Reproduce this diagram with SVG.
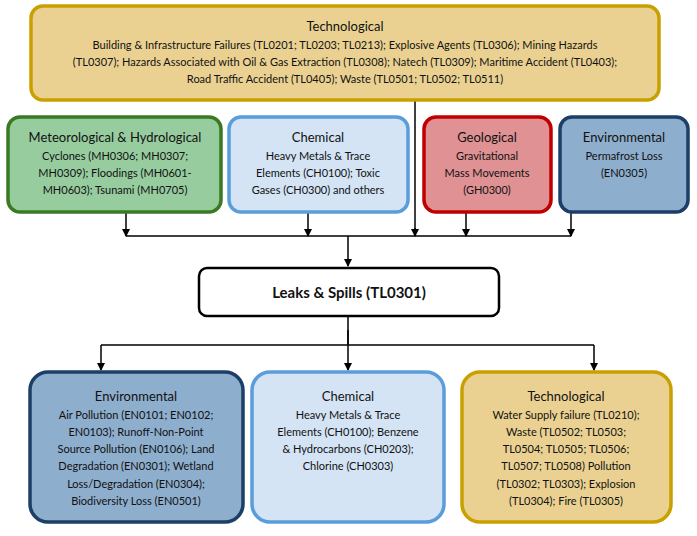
<svg xmlns="http://www.w3.org/2000/svg" width="697" height="536" viewBox="0 0 697 536">
<defs>
<marker id="ah" markerWidth="8" markerHeight="8" refX="7" refY="4" orient="auto" markerUnits="userSpaceOnUse"><path d="M0,0 L8,4 L0,8 z" fill="#000"/></marker>
<style>
text{font-family:Lato,"Liberation Sans",sans-serif;text-anchor:middle;fill:#111}
.t{font-size:13px}.b{font-size:11px}
.c{stroke:#000;stroke-width:1.5;fill:none}
.box{stroke-width:3.5}
</style>
</defs>
<rect width="697" height="536" fill="#fff"/>
<g id="connectors">
<path class="c" d="M415,100 V236"/>
<path class="c" d="M126,236 H571"/>
<path class="c" d="M126,212 V236" marker-end="url(#ah)"/>
<path class="c" d="M308,212 V236" marker-end="url(#ah)"/>
<path class="c" d="M466,212 V236" marker-end="url(#ah)"/>
<path class="c" d="M571,212 V236" marker-end="url(#ah)"/>
<path class="c" d="M415,228 V236" marker-end="url(#ah)"/>
<path class="c" d="M348,236 V266" marker-end="url(#ah)"/>
<path class="c" d="M348,316 V344"/>
<path class="c" d="M101,345 H594"/>
<path class="c" d="M101,345 V370" marker-end="url(#ah)"/>
<path class="c" d="M348,330 V370" marker-end="url(#ah)"/>
<path class="c" d="M594,345 V370" marker-end="url(#ah)"/>
</g>
<g id="tech-top">
<rect class="box" x="31" y="6" width="628" height="94" rx="12" fill="#ead192" stroke="#c9a000"/>
<text class="t" x="345" y="31">Technological</text>
<text class="b" x="345" y="49">Building &amp; Infrastructure Failures (TL0201; TL0203; TL0213); Explosive Agents (TL0306); Mining Hazards</text>
<text class="b" x="345" y="66">(TL0307); Hazards Associated with Oil &amp; Gas Extraction (TL0308); Natech (TL0309); Maritime Accident (TL0403);</text>
<text class="b" x="345" y="83">Road Traffic Accident (TL0405); Waste (TL0501; TL0502; TL0511)</text>
</g>
<g id="met">
<rect class="box" x="8" y="117" width="213" height="95" rx="12" fill="#97cc9f" stroke="#3a7a22"/>
<text class="t" x="115" y="142">Meteorological &amp; Hydrological</text>
<text class="b" x="115" y="160">Cyclones (MH0306; MH0307;</text>
<text class="b" x="115" y="177">MH0309); Floodings (MH0601-</text>
<text class="b" x="115" y="194">MH0603); Tsunami (MH0705)</text>
</g>
<g id="chem-top">
<rect class="box" x="229" y="117" width="179" height="95" rx="12" fill="#d4e4f5" stroke="#5a9ddb"/>
<text class="t" x="318" y="142">Chemical</text>
<text class="b" x="318" y="160">Heavy Metals &amp; Trace</text>
<text class="b" x="318" y="177">Elements (CH0100); Toxic</text>
<text class="b" x="318" y="194">Gases (CH0300) and others</text>
</g>
<g id="geo">
<rect class="box" x="424" y="117" width="127" height="95" rx="12" fill="#df9194" stroke="#c00000"/>
<text class="t" x="487" y="142">Geological</text>
<text class="b" x="487" y="160">Gravitational</text>
<text class="b" x="487" y="177">Mass Movements</text>
<text class="b" x="487" y="194">(GH0300)</text>
</g>
<g id="env-top">
<rect class="box" x="560" y="117" width="128" height="95" rx="12" fill="#8eaecd" stroke="#1b3f66"/>
<text class="t" x="624" y="142">Environmental</text>
<text class="b" x="624" y="160">Permafrost Loss</text>
<text class="b" x="624" y="177">(EN0305)</text>
</g>
<g id="leaks">
<rect x="199" y="268" width="300" height="48" rx="8" fill="#fff" stroke="#000" stroke-width="2.5"/>
<text x="349" y="298" style="font-size:15px;font-weight:bold">Leaks &amp; Spills (TL0301)</text>
</g>
<g id="env-bot">
<rect class="box" x="30" y="372" width="213" height="150" rx="18" fill="#8eaecd" stroke="#1b3f66"/>
<text class="t" x="136" y="401">Environmental</text>
<text class="b" x="136" y="419">Air Pollution (EN0101; EN0102;</text>
<text class="b" x="136" y="436">EN0103); Runoff-Non-Point</text>
<text class="b" x="136" y="453">Source Pollution (EN0106); Land</text>
<text class="b" x="136" y="470">Degradation (EN0301); Wetland</text>
<text class="b" x="136" y="488">Loss/Degradation (EN0304);</text>
<text class="b" x="136" y="505">Biodiversity Loss (EN0501)</text>
</g>
<g id="chem-bot">
<rect class="box" x="252" y="372" width="192" height="150" rx="18" fill="#d4e4f5" stroke="#5a9ddb"/>
<text class="t" x="348" y="401">Chemical</text>
<text class="b" x="348" y="419">Heavy Metals &amp; Trace</text>
<text class="b" x="348" y="436">Elements (CH0100); Benzene</text>
<text class="b" x="348" y="453">&amp; Hydrocarbons (CH0203);</text>
<text class="b" x="348" y="470">Chlorine (CH0303)</text>
</g>
<g id="tech-bot">
<rect class="box" x="462" y="372" width="209" height="150" rx="18" fill="#ead192" stroke="#c9a000"/>
<text class="t" x="566" y="401">Technological</text>
<text class="b" x="566" y="419">Water Supply failure (TL0210);</text>
<text class="b" x="566" y="436">Waste (TL0502; TL0503;</text>
<text class="b" x="566" y="453">TL0504; TL0505; TL0506;</text>
<text class="b" x="566" y="470">TL0507; TL0508) Pollution</text>
<text class="b" x="566" y="488">(TL0302; TL0303); Explosion</text>
<text class="b" x="566" y="505">(TL0304); Fire (TL0305)</text>
</g>
</svg>
